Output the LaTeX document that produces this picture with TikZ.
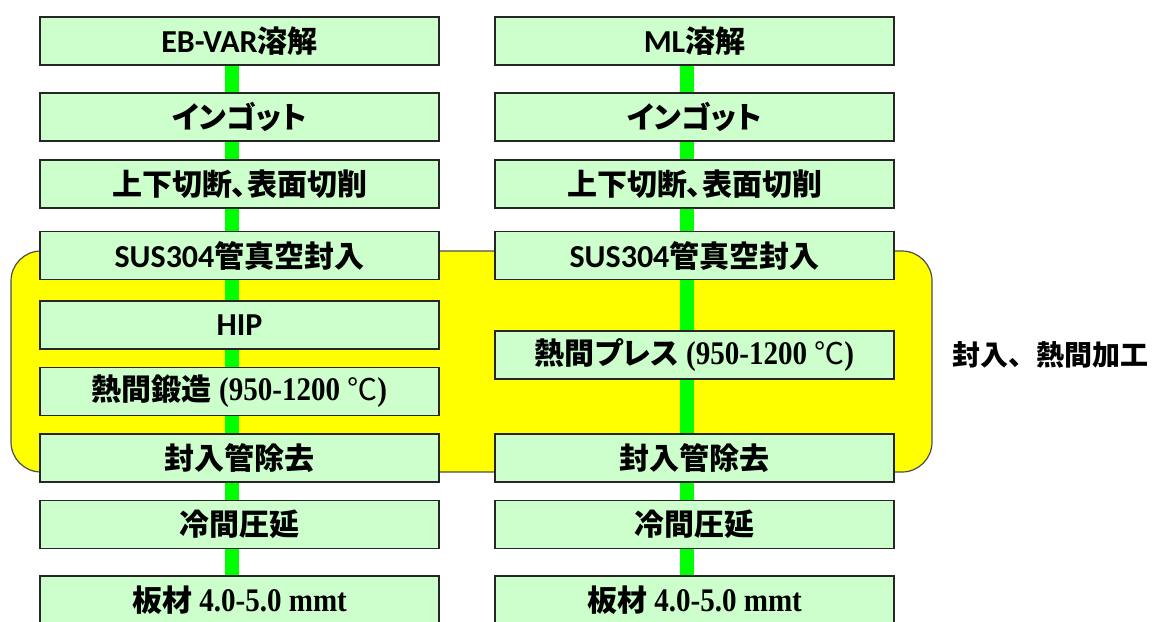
\documentclass[tikz,border=0pt]{standalone}
\usepackage{fontspec}
\setmainfont{Liberation Serif}
\newfontfamily\cjkf{Noto Sans CJK JP}
\newfontfamily\cjkpf{Noto Sans CJK JP}[RawFeature=+palt]
\newfontfamily\latf{Carlito}
\newfontfamily\tmf{Liberation Serif}[FakeStretch=0.88]
\newcommand{\jp}[1]{{\cjkf\bfseries #1}}
\newcommand{\jpp}[1]{{\cjkpf\bfseries #1}}
\newcommand{\la}[1]{{\latf\bfseries\fontsize{32}{36}\selectfont #1}}
\newcommand{\tm}[1]{{\tmf\bfseries\fontsize{33}{36}\selectfont #1}}
\definecolor{boxgreen}{HTML}{CCFFCC}
\definecolor{linkgreen}{HTML}{00FF00}
\definecolor{grpyellow}{HTML}{FFFF00}
\pgfdeclarelayer{back}
\pgfdeclarelayer{mid}
\pgfsetlayers{back,mid,main}
\begin{document}
\begin{tikzpicture}[x=1pt,y=-1pt,
  stepbox/.style={draw=black!85, line width=1.8pt, fill=boxgreen,
    minimum width=399pt, minimum height=48pt, inner sep=0pt,
    font=\fontsize{30}{36}\selectfont},
  link/.style={draw=linkgreen, line width=14pt},
  grp/.style={draw=black!70, line width=1.2pt, fill=grpyellow,
    rounded corners=30pt, minimum width=921pt, minimum height=221pt, inner sep=0pt},
  note/.style={font=\fontsize{28}{34}\selectfont}]
\useasboundingbox (0,0) rectangle (1155,621);
% left column
\node[stepbox] (l1) at (239.5,41) {\la{EB-VAR}\jp{溶解}};
\node[stepbox] (l2) at (239.5,117) {\jpp{インゴット}};
\node[stepbox] (l3) at (239.5,184) {\jp{上下切断}\jpp{、}\jp{表面切削}};
\node[stepbox] (l4) at (239.5,255.5) {\la{SUS304}\jp{管真空封入}};
\node[stepbox] (l5) at (239.5,325) {\la{HIP}};
\node[stepbox] (l6) at (239.5,391.5) {\jp{熱間鍛造}\tm{ (950-1200 }{\cjkf ℃}\tm{)}};
\node[stepbox] (l7) at (239.5,458) {\jp{封入管除去}};
\node[stepbox] (l8) at (239.5,524.5) {\jp{冷間圧延}};
\node[stepbox] (l9) at (239.5,600) {\jp{板材}\tm{ 4.0-5.0 mmt}};
% right column
\node[stepbox] (r1) at (694.5,41) {\la{ML}\jp{溶解}};
\node[stepbox] (r2) at (694.5,117) {\jpp{インゴット}};
\node[stepbox] (r3) at (694.5,184) {\jp{上下切断}\jpp{、}\jp{表面切削}};
\node[stepbox] (r4) at (694.5,255.5) {\la{SUS304}\jp{管真空封入}};
\node[stepbox] (r5) at (694.5,355) {\jp{熱間}\jpp{プレス}\tm{ (950-1200 }{\cjkf ℃}\tm{)}};
\node[stepbox] (r7) at (694.5,458) {\jp{封入管除去}};
\node[stepbox] (r8) at (694.5,524.5) {\jp{冷間圧延}};
\node[stepbox] (r9) at (694.5,600) {\jp{板材}\tm{ 4.0-5.0 mmt}};
% label
\node[note] (lbl) at (1050,355) {\jp{封入、熱間加工}};
% group background
\begin{pgfonlayer}{back}
\node[grp] (g) at (471.5,361.5) {};
\end{pgfonlayer}
% connectors
\begin{pgfonlayer}{mid}
\foreach \a/\b in {l1/l2,l2/l3,l3/l4,l4/l5,l5/l6,l6/l7,l7/l8,l8/l9,
                   r1/r2,r2/r3,r3/r4,r4/r5,r5/r7,r7/r8,r8/r9}
  \draw[link] ([xshift=-8pt]\a.south) -- ([xshift=-8pt]\b.north);
\end{pgfonlayer}
\end{tikzpicture}
\end{document}
